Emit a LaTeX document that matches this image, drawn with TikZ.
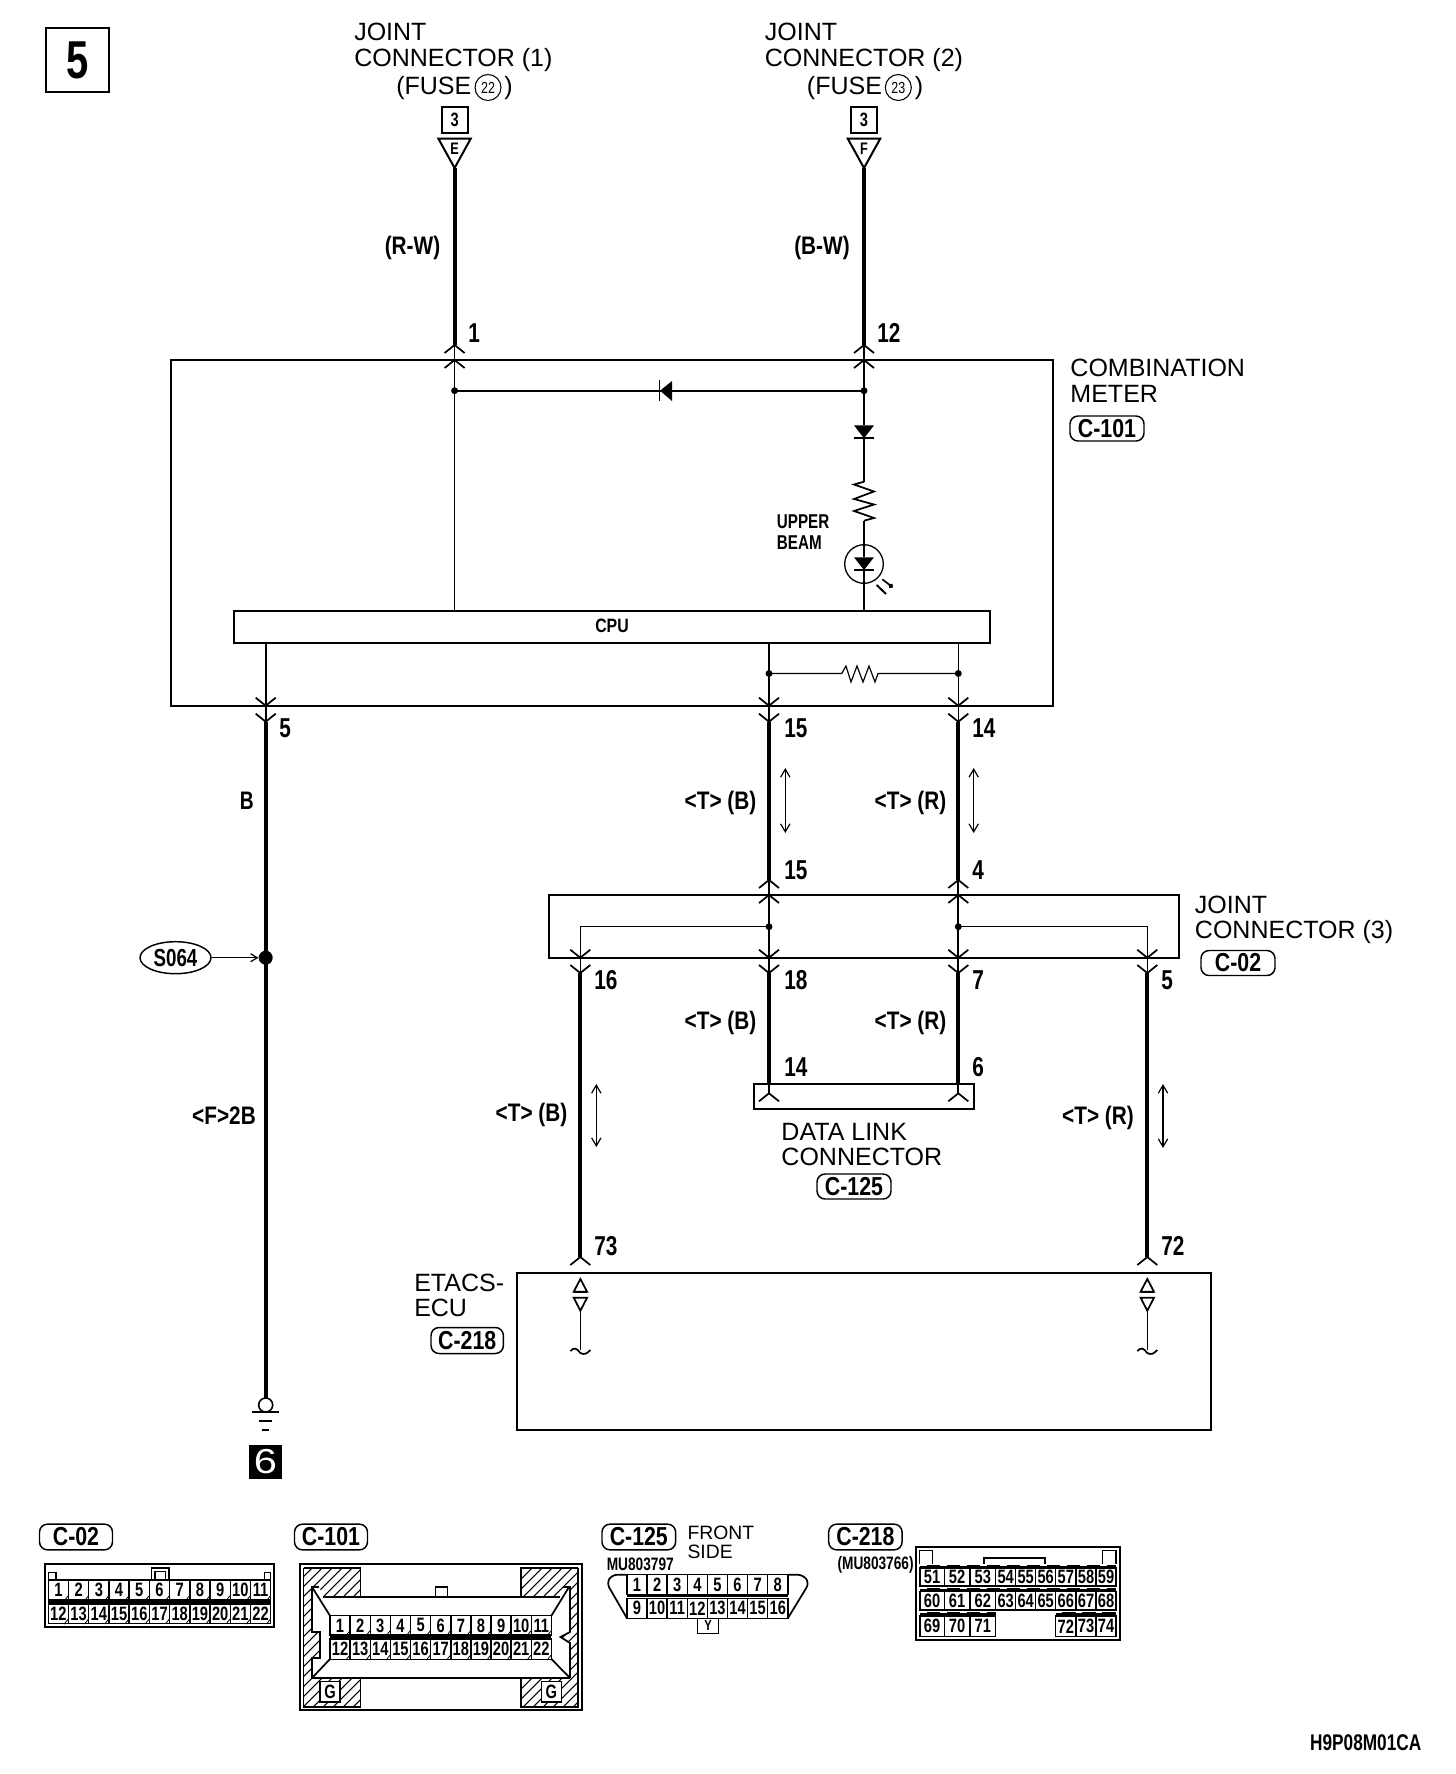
\documentclass[tikz,border=0pt]{standalone}
\usepackage{fontspec}
\usepackage{graphicx}
\setmainfont{Liberation Sans}
\usetikzlibrary{arrows.meta,shapes.geometric,calc}
\newcommand{\nb}[1]{\scalebox{0.76}[1]{\bfseries #1}}
\newcommand{\nw}[1]{\scalebox{0.82}[1]{\bfseries #1}}
\newcommand{\nr}[1]{\scalebox{0.78}[1]{#1}}
\definecolor{ink}{HTML}{000000}
\tikzset{
  boxline/.style={draw=ink,line width=1.5pt},
  fineline/.style={draw=ink,line width=0.9pt},
  midline/.style={draw=ink,line width=1.3pt},
  wirethick/.style={draw=ink,line width=3pt},
  txt/.style={inner sep=0,anchor=west,text=ink,font=\fontsize{18.75}{20}\selectfont},
  pinno/.style={inner sep=0,anchor=west,text=ink,font=\fontsize{20.5}{22}\selectfont},
  wlab/.style={inner sep=0,text=ink,font=\fontsize{19}{21}\selectfont},
  cnum/.style={inner sep=0,text=ink,font=\fontsize{14.5}{15}\selectfont},
  badge/.style={boxline,line width=1.1pt,rounded corners=6pt,inner sep=0,text=ink,font=\fontsize{19.5}{21}\selectfont},
  cellbox/.style={draw=ink,line width=1.1pt,inner sep=0,font=\fontsize{14.5}{15}\selectfont},
  dotnode/.style={circle,fill=ink,inner sep=0,minimum size=5.2pt},
  fusering/.style={draw=ink,line width=0.8pt,circle,minimum size=19.5pt,inner sep=0,font=\fontsize{12}{12}\selectfont},
  dbl/.style={draw=ink,line width=0.9pt,{Straight Barb[length=6pt,width=7pt]}-{Straight Barb[length=6pt,width=7pt]}},
}
% chevrons: apex at the named point
\newcommand{\chevup}[1]{\draw[midline] ($(#1)+(-10,8)$) -- (#1) -- ($(#1)+(10,8)$);}
\newcommand{\chevdn}[1]{\draw[midline] ($(#1)+(-10,-8)$) -- (#1) -- ($(#1)+(10,-8)$);}
% one row of numbered cells
\newcommand{\cellrow}[8]{%
  \foreach \i in {0,...,#7}{%
    \pgfmathsetmacro\cx{#2+(\i+0.5)*#3}%
    \pgfmathsetmacro\cy{(#4+#5)/2}%
    \pgfmathtruncatemacro\n{#6+\i}%
    \node[cellbox,minimum width=#3*0.75pt,minimum height={(#5-#4)*0.75pt}] (#1\n) at (\cx,\cy) {\nb{\n}};
    \ifnum#8=1
      \draw[draw=ink,line width=0.6pt] ($(#1\n.south east)+(-5,0)$) -- ($(#1\n.south east)+(-1,-5)$);
    \fi
  }%
}
\begin{document}
\begin{tikzpicture}[x=0.75pt,y=-0.75pt]
\useasboundingbox (0,0) rectangle (1456,1774);
\fill[white] (0,0) rectangle (1456,1774);

% page number box
\node[boxline,minimum width=63.8*0.75pt,minimum height=64*0.75pt,inner sep=0,font=\fontsize{40}{42}\selectfont] (pg) at (77.5,60) {\scalebox{0.75}[1]{\bfseries 5}};

% ---- coordinates
\coordinate (a1) at (454.6,168);  \coordinate (a2) at (454.6,345);
\coordinate (a3) at (454.6,360);  \coordinate (a4) at (454.6,390.7);
\coordinate (a5) at (454.6,611);
\coordinate (b1) at (864,168);    \coordinate (b2) at (864,345);
\coordinate (b3) at (864,360);    \coordinate (b4) at (864,390.7);
\coordinate (b5) at (864,425.3);  \coordinate (b6) at (864,481.7);
\coordinate (b7) at (864,520.7);  \coordinate (b8) at (864,611);
\coordinate (d1) at (265.7,642.7);\coordinate (d2) at (265.7,705.7);
\coordinate (d3) at (265.7,721.7);\coordinate (d4) at (265.7,1398);
\coordinate (e1) at (769,642.7);  \coordinate (e2) at (769,705.7);
\coordinate (e3) at (769,721.7);  \coordinate (e4) at (769,880);
\coordinate (e5) at (769,895);    \coordinate (e6) at (769,957.7);
\coordinate (e7) at (769,973);    \coordinate (e8) at (769,1084);
\coordinate (e9) at (769,1093.3);
\coordinate (f1) at (958.3,642.7);\coordinate (f2) at (958.3,705.7);
\coordinate (f3) at (958.3,721.7);\coordinate (f4) at (958.3,880);
\coordinate (f5) at (958.3,895);  \coordinate (f6) at (958.3,957.7);
\coordinate (f7) at (958.3,973);  \coordinate (f8) at (958.3,1084);
\coordinate (f9) at (958.3,1093.3);
\coordinate (g1) at (580.3,926.7);\coordinate (g2) at (580.3,957.7);
\coordinate (g3) at (580.3,973);  \coordinate (g4) at (580.3,1257);
\coordinate (h1) at (1147.3,926.7);\coordinate (h2) at (1147.3,957.7);
\coordinate (h3) at (1147.3,973); \coordinate (h4) at (1147.3,1257);

% ---- top labels
\node[txt] (jc1a) at (354,32) {JOINT};
\node[txt] (jc1b) at (354,60) {CONNECTOR (1)};
\node[txt] (jc1c) at (396,88) {(FUSE};
\node[fusering] (f22) at (488,87.5) {\nr{22}};
\node[txt] (jc1d) at (504,88) {)};
\node[txt] (jc2a) at (764.6,32) {JOINT};
\node[txt] (jc2b) at (764.6,60) {CONNECTOR (2)};
\node[txt] (jc2c) at (806.7,88) {(FUSE};
\node[fusering] (f23) at (898.3,87.5) {\nr{23}};
\node[txt] (jc2d) at (914.5,88) {)};

\node[boxline,minimum width=26*0.75pt,minimum height=26.6*0.75pt,inner sep=0,font=\fontsize{14.5}{15}\selectfont] (n31) at (454.6,120) {\nb{3}};
\node[boxline,minimum width=26*0.75pt,minimum height=26.6*0.75pt,inner sep=0,font=\fontsize{14.5}{15}\selectfont] (n32) at (864,120) {\nb{3}};
\draw[boxline,line join=miter] (438.4,138.7) -- (470.7,138.7) -- (a1) -- cycle;
\draw[boxline,line join=miter] (847.8,138.7) -- (880.2,138.7) -- (b1) -- cycle;
\node[cnum,font=\fontsize{12.5}{13}\selectfont] (letE) at (454.6,148.5) {\nb{E}};
\node[cnum,font=\fontsize{12.5}{13}\selectfont] (letF) at (864,148.5) {\nb{F}};

% ---- wires 1 and 2
\draw[wirethick] (a1) -- (a2);
\draw[wirethick] (b1) -- (b2);
\node[wlab] (rw) at (412.5,248) {\nw{(R-W)}};
\node[wlab] (bw) at (822,248) {\nw{(B-W)}};
\node[pinno] (p1) at (468,333) {\nb{1}};
\node[pinno] (p12) at (877,333) {\nb{12}};

% ---- combination meter
\draw[boxline] (170.7,360) rectangle (1053,706);
\node[txt] (cm1) at (1070.2,368) {COMBINATION};
\node[txt] (cm2) at (1070.2,393.5) {METER};
\node[badge,minimum width=74*0.75pt,minimum height=25*0.75pt] (b101) at (1107,428.5) {\nw{C-101}};

\chevup{a2}\chevup{a3}\chevup{b2}\chevup{b3}
\draw[midline] (a2) -- (a5);
\draw[midline] (b2) -- (b5);
\draw[boxline] (a4) -- (b4);
\node[dotnode] (na) at (a4) {};
\node[dotnode] (nb) at (b4) {};
% horizontal diode
\fill[ink] (660,390.7) -- (672,381) -- (672,401) -- cycle;
\draw[midline] (659.5,380) -- (659.5,401);
% vertical diode
\fill[ink] (854,425.3) -- (874,425.3) -- (864,438.3) -- cycle;
\draw[midline] (854,438.3) -- (874,438.3);
\draw[midline] (864,438.3) -- (b6);
% resistor
\draw[midline] (b6) -- (854,484.5) -- (874,491.5) -- (854,499) -- (874,504.5) -- (854,511) -- (874,518) -- (b7);
% lamp
\draw[midline] (b7) -- (864,557.3);
\node[draw=ink,line width=1pt,circle,minimum size=38.6*0.75pt,inner sep=0] (lamp) at (864,564) {};
\fill[ink] (854,557.3) -- (874,557.3) -- (864,570) -- cycle;
\draw[midline] (854,570) -- (874,570);
\draw[midline] (864,570) -- (b8);
\draw[boxline] (876.7,585) -- (886,594);
\draw[midline,-{Circle[length=3.5pt]}] (882.3,579.3) -- (892.7,587.3);
\node[wlab,anchor=west,font=\fontsize{15}{16}\selectfont] (up1) at (776.7,521.5) {\nb{UPPER}};
\node[wlab,anchor=west,font=\fontsize{15}{16}\selectfont] (up2) at (776.7,543) {\nb{BEAM}};

% CPU
\node[boxline,minimum width=756*0.75pt,minimum height=31.7*0.75pt,inner sep=0,font=\fontsize{14.5}{15}\selectfont] (cpu) at (612,626.8) {\raisebox{1pt}{\nw{CPU}}};

% below the CPU
\draw[midline] (d1) -- (d3);
\draw[midline] (e1) -- (e3);
\draw[fineline] (f1) -- (f3);
\chevdn{d2}\chevdn{d3}\chevdn{e2}\chevdn{e3}\chevdn{f2}\chevdn{f3}
\coordinate (ed) at (769,673.5); \coordinate (fd) at (958.3,673.5);
\draw[fineline] (ed) -- (841.7,673.5) -- (846,666) -- (851,682) -- (857,666) -- (863,682) -- (869,666) -- (875,682) -- (878,673.5) -- (fd);
\node[dotnode] (ne) at (ed) {};
\node[dotnode] (nf) at (fd) {};

% ---- pin 5 / ground wire
\draw[wirethick] (d3) -- (d4);
\node[pinno] (p5a) at (279,728) {\nb{5}};
\node[wlab] (lB) at (246.7,801) {\nb{B}};
\node[circle,fill=ink,inner sep=0,minimum size=10.5pt] (s0) at (265.7,957.7) {};
\node[boxline,line width=1.1pt,ellipse,minimum width=71*0.75pt,minimum height=32*0.75pt,inner sep=0,font=\fontsize{18.5}{19}\selectfont] (s064) at (175.5,957.7) {\nb{S064}};
\draw[fineline,-{Straight Barb[length=5pt,width=6pt]}] (s064) -- (s0);
\node[wlab] (lF) at (224,1115.5) {\nw{<F>2B}};
\node[draw=ink,line width=1.2pt,circle,minimum size=10.5pt,inner sep=0] (gc) at (265.7,1405) {};
\draw[boxline] (252.3,1412) -- (279,1412);
\draw[boxline] (259,1420.7) -- (272,1420.7);
\draw[midline] (262,1430.3) -- (269,1430.3);
\node[fill=ink,text=white,minimum width=33*0.75pt,minimum height=34*0.75pt,inner sep=0,font=\fontsize{26}{27}\selectfont] (six) at (265.5,1462) {\scalebox{1.2}[1]{6}};

% ---- data wires
\draw[wirethick] (e3) -- (e4);
\draw[wirethick] (f3) -- (f4);
\node[pinno] (p15a) at (784,728) {\nb{15}};
\node[pinno] (p14a) at (972,728) {\nb{14}};
\node[pinno] (p15b) at (784,870) {\nb{15}};
\node[pinno] (p4) at (972,870) {\nb{4}};
\node[wlab] (tb1) at (720.5,803) {\nw{<T> (B)}};
\node[wlab] (tr1) at (910.5,803) {\nw{<T> (R)}};
\coordinate (da1) at (785.3,768); \coordinate (da2) at (785.3,833);
\coordinate (da3) at (973.7,768); \coordinate (da4) at (973.7,833);
\draw[dbl] (da1) -- (da2);
\draw[dbl] (da3) -- (da4);

% ---- joint connector 3
\draw[boxline] (549,895) rectangle (1179,957.7);
\node[txt] (jc3a) at (1194.7,905) {JOINT};
\node[txt] (jc3b) at (1194.7,932.5) {CONNECTOR (3)};
\node[badge,minimum width=74*0.75pt,minimum height=25*0.75pt] (b02) at (1238,963) {\nw{C-02}};
\chevup{e4}\chevup{e5}\chevup{f4}\chevup{f5}
\draw[midline] (e4) -- (e7);
\draw[midline] (f4) -- (f7);
\coordinate (ej) at (769,926.7); \coordinate (fj) at (958.3,926.7);
\draw[fineline] (ej) -- (g1) -- (g3);
\draw[fineline] (fj) -- (h1) -- (h3);
\node[dotnode] (nej) at (ej) {};
\node[dotnode] (nfj) at (fj) {};
\chevdn{e6}\chevdn{e7}\chevdn{f6}\chevdn{f7}\chevdn{g2}\chevdn{g3}\chevdn{h2}\chevdn{h3}
\draw[wirethick] (e7) -- (e8);
\draw[wirethick] (f7) -- (f8);
\draw[wirethick] (g3) -- (g4);
\draw[wirethick] (h3) -- (h4);
\node[pinno] (p16) at (594,980) {\nb{16}};
\node[pinno] (p18) at (784,980) {\nb{18}};
\node[pinno] (p7) at (972,980) {\nb{7}};
\node[pinno] (p5b) at (1161,980) {\nb{5}};
\node[wlab] (tb2) at (720.5,1022.5) {\nw{<T> (B)}};
\node[wlab] (tr2) at (910.5,1022.5) {\nw{<T> (R)}};
\node[pinno] (p14b) at (784,1067) {\nb{14}};
\node[pinno] (p6) at (972,1067) {\nb{6}};

% ---- data link connector
\draw[boxline] (753.7,1084) rectangle (974.3,1109);
\draw[midline] (e8) -- (e9);
\draw[midline] (f8) -- (f9);
\chevup{e9}\chevup{f9}
\node[txt] (dl1) at (781.2,1132) {DATA LINK};
\node[txt] (dl2) at (781.2,1157) {CONNECTOR};
\node[badge,minimum width=74*0.75pt,minimum height=25*0.75pt] (b125a) at (854,1186.5) {\nw{C-125}};

\node[wlab] (tb3) at (531.5,1115) {\nw{<T> (B)}};
\node[wlab] (tr3) at (1098,1118) {\nw{<T> (R)}};
\coordinate (da5) at (596.3,1084); \coordinate (da6) at (596.3,1147);
\coordinate (da7) at (1163,1084); \coordinate (da8) at (1163,1148);
\draw[dbl] (da5) -- (da6);
\draw[dbl] (da7) -- (da8);
\node[pinno] (p73) at (594,1246) {\nb{73}};
\node[pinno] (p72) at (1161,1246) {\nb{72}};

% ---- ETACS
\chevup{g4}\chevup{h4}
\draw[boxline] (517,1272.7) rectangle (1210.5,1430);
\node[txt] (et1) at (414,1283) {ETACS-};
\node[txt] (et2) at (414,1308) {ECU};
\node[badge,minimum width=72.4*0.75pt,minimum height=26*0.75pt] (b218a) at (467.2,1340.5) {\nw{C-218}};
\foreach \xx/\nm in {580.4/l,1147.3/r}{
  \coordinate (t\nm) at (\xx,1310.7);
  \coordinate (u\nm) at (\xx,1350);
  \draw[midline] (\xx,1279) -- (\xx-6.7,1291.7) -- (\xx+6.7,1291.7) -- cycle;
  \draw[boxline] (\xx-6.7,1291.7) -- (\xx+6.7,1291.7);
  \draw[midline] (\xx-6.7,1297.7) -- (\xx+6.7,1297.7) -- (t\nm) -- cycle;
  \draw[fineline] (t\nm) -- (u\nm);
  \draw[midline] (\xx-10,1351) .. controls (\xx-6,1347) and (\xx-4,1348) .. (\xx,1353) .. controls (\xx+4,1355) and (\xx+6,1354) .. (\xx+10,1350);
}

% ================= connector views
% C-02
\node[badge,minimum width=73*0.75pt,minimum height=25.7*0.75pt] (b02v) at (76,1537) {\nw{C-02}};
\draw[boxline] (44.7,1564.3) rectangle (274.3,1627.3);
\draw[fineline] (48.3,1580) -- (48.3,1572.3) -- (56,1572.3) -- (56,1580);
\draw[fineline] (264.3,1580) -- (264.3,1572.3) -- (270.7,1572.3) -- (270.7,1580);
\draw[boxline,line width=1.2pt] (151.3,1580) -- (151.3,1567.7) -- (169,1567.7) -- (169,1580);
\draw[fineline] (155,1580) -- (155,1571.7) -- (165.7,1571.7) -- (165.7,1580);
\cellrow{cb}{48.3}{20.22}{1580}{1600}{1}{10}{1}
\cellrow{cb}{48.3}{20.22}{1604}{1623.3}{12}{10}{1}
\draw[boxline] (48.3,1601.8) -- (270.7,1601.8);

% C-101
\node[badge,minimum width=73*0.75pt,minimum height=25.7*0.75pt] (b101v) at (331,1537) {\nw{C-101}};
\draw[boxline] (299.6,1564.3) rectangle (581.8,1710);
\begin{scope}
  \clip (303.5,1567.7) -- (360.5,1567.7) -- (360.5,1596.7) -- (323,1596.7) -- (319.4,1587) -- (312,1587) -- (312,1632) -- (320,1632) -- (320,1658) -- (312,1658) -- (312,1678) -- (360.5,1678) -- (360.5,1706.7) -- (303.5,1706.7) -- cycle
        (578,1567.7) -- (521,1567.7) -- (521,1596.7) -- (560,1596.7) -- (563,1587) -- (570,1587) -- (570,1632) -- (560.5,1637) -- (570,1643) -- (570,1678) -- (521,1678) -- (521,1706.7) -- (578,1706.7) -- cycle;
  \foreach \k in {0,1,...,50}{
    \draw[draw=ink,line width=0.8pt] (130+\k*10,1720) -- (130+\k*10+170,1550);
  }
\end{scope}
\draw[midline] (303.5,1567.7) -- (360.5,1567.7) -- (360.5,1596.7);
\draw[midline] (303.5,1567.7) -- (303.5,1706.7) -- (360.5,1706.7) -- (360.5,1678);
\draw[midline] (578,1567.7) -- (521,1567.7) -- (521,1596.7);
\draw[midline] (578,1567.7) -- (578,1706.7) -- (521,1706.7) -- (521,1678);
\draw[midline] (323,1596.7) -- (560,1596.7);
\draw[midline] (312,1678) -- (570,1678);
\draw[midline] (319.4,1587) -- (312,1587) -- (312,1632) -- (320,1632) -- (320,1658) -- (312,1658) -- (312,1678);
\draw[midline] (563,1587) -- (570,1587) -- (570,1632) -- (560.5,1637) -- (570,1643) -- (570,1678);
\draw[midline] (312,1587) -- (330,1615.7);
\draw[midline] (569,1587) -- (551.4,1615.7);
\draw[midline] (330,1659) -- (312,1678);
\draw[midline] (551.4,1659) -- (570,1678);
\draw[midline] (435.6,1596.7) -- (435.6,1586.7) -- (447.4,1586.7) -- (447.4,1596.7);
\cellrow{cm}{330}{20.13}{1615.7}{1635}{1}{10}{1}
\cellrow{cm}{330}{20.13}{1639}{1659.3}{12}{10}{1}
\draw[boxline] (330,1637) -- (551.4,1637);
\node[cellbox,fill=white,minimum width=20*0.75pt,minimum height=20.3*0.75pt] (gl) at (330,1691.8) {\nb{G}};
\node[cellbox,fill=white,minimum width=20*0.75pt,minimum height=20.3*0.75pt] (gr) at (551.3,1691.8) {\nb{G}};

% C-125
\node[badge,minimum width=73.6*0.75pt,minimum height=25.7*0.75pt] (b125v) at (638.8,1537) {\nw{C-125}};
\node[txt,font=\fontsize{14.5}{15}\selectfont] (fr) at (687.3,1533) {FRONT};
\node[txt,font=\fontsize{14.5}{15}\selectfont] (sd) at (687.3,1552) {SIDE};
\node[wlab,font=\fontsize{13.5}{14}\selectfont] (mu1) at (640.3,1564) {\nb{MU803797}};
\draw[midline,rounded corners=4pt] (627,1574.7) -- (612,1574.7) -- (606.6,1583) -- (627,1618.3);
\draw[midline,rounded corners=4pt] (787.8,1574.7) -- (803,1574.7) -- (809.3,1583) -- (787.8,1618.3);
\cellrow{cd}{627}{20.1}{1574.7}{1594.3}{1}{7}{0}
\cellrow{cd}{627}{20.1}{1598.3}{1618.3}{9}{7}{0}
\draw[boxline] (627,1596.3) -- (787.8,1596.3);
\node[cellbox,minimum width=20.5*0.75pt,minimum height=15*0.75pt,font=\fontsize{11}{12}\selectfont] (yy) at (708,1625.8) {\nb{Y}};

% C-218
\node[badge,minimum width=73.4*0.75pt,minimum height=25.7*0.75pt] (b218v) at (865.4,1537) {\nw{C-218}};
\node[wlab,font=\fontsize{13.5}{14}\selectfont] (mu2) at (875.6,1565) {\nb{(MU803766)}};
\draw[boxline] (915.7,1546.7) rectangle (1120,1640);
\draw[fineline] (919.3,1564) -- (919.3,1550.7) -- (932.3,1550.7) -- (932.3,1564);
\draw[fineline] (1102.7,1564) -- (1102.7,1550.7) -- (1116,1550.7) -- (1116,1564);
\draw[midline] (984.3,1564) -- (984.3,1558.3) -- (1045,1558.3) -- (1045,1564);
\foreach \a/\b/\k in {920/944.3/0,944.3/970/1,970/995.7/2,995.7/1015.7/3,1015.7/1035.7/4,1035.7/1055.7/5,1055.7/1076/6,1076/1096/7,1096/1116/8}{
  \pgfmathsetmacro\cx{(\a+\b)/2}
  \pgfmathsetmacro\cw{\b-\a}
  \pgfmathtruncatemacro\nA{51+\k}
  \pgfmathtruncatemacro\nB{60+\k}
  \node[cellbox,minimum width=\cw*0.75pt,minimum height=18*0.75pt] (ce\nA) at (\cx,1577) {\nb{\nA}};
  \node[cellbox,minimum width=\cw*0.75pt,minimum height=18.5*0.75pt] (ce\nB) at (\cx,1600.7) {\nb{\nB}};
}
\foreach \a/\b/\n in {920/944.3/69,944.3/970/70,970/995.7/71,1055.7/1076/72,1076/1096/73,1096/1116/74}{
  \pgfmathsetmacro\cx{(\a+\b)/2}
  \pgfmathsetmacro\cw{\b-\a}
  \node[cellbox,minimum width=\cw*0.75pt,minimum height=20.7*0.75pt] (ce\n) at (\cx,1626.3) {\nb{\n}};
}
\draw[draw=ink,line width=2.2pt] (920,1566.2) -- (1116,1566.2);
\draw[draw=ink,line width=2.2pt] (920,1589.6) -- (1116,1589.6);
\draw[draw=ink,line width=2.2pt] (920,1613.8) -- (995.7,1613.8);
\draw[draw=ink,line width=2.2pt] (1055.7,1613.8) -- (1116,1613.8);
\draw[draw=white,line width=0.7pt,dash pattern=on 5pt off 10pt] (920,1565.2) -- (1116,1565.2);
\draw[draw=white,line width=0.7pt,dash pattern=on 5pt off 10pt] (920,1588.6) -- (1116,1588.6);
\draw[draw=white,line width=0.7pt,dash pattern=on 5pt off 10pt] (920,1612.8) -- (995.7,1612.8);
\draw[draw=white,line width=0.7pt,dash pattern=on 5pt off 10pt] (1055.7,1612.8) -- (1116,1612.8);
\draw[ink,line width=1.1pt] (995.7,1609.5) -- (1055.7,1609.5);

% footer code
\node[wlab,anchor=east,font=\fontsize{17}{18}\selectfont] (code) at (1421.5,1743) {\nb{H9P08M01CA}};
\end{tikzpicture}
\end{document}
